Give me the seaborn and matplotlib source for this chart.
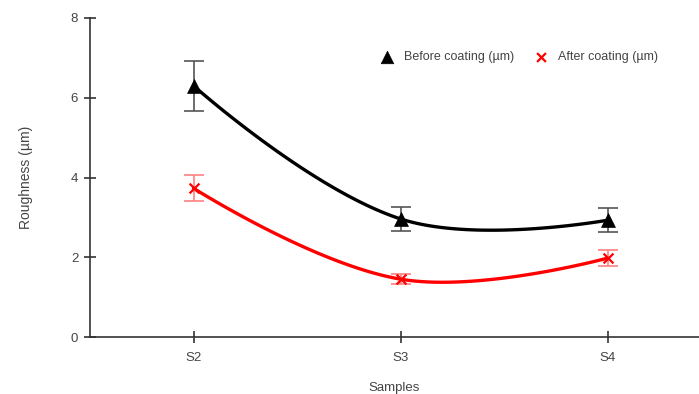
import numpy as np
import matplotlib
matplotlib.use("Agg")
import matplotlib.pyplot as plt
import seaborn as sns

# Data
samples = ["S2", "S3", "S4"]
before = [6.30, 2.96, 2.93]
before_err = [0.63, 0.30, 0.30]
after = [3.73, 1.45, 1.98]
after_err = [0.33, 0.12, 0.19]

# pixel size of one unit on each axis, used to shape the smooth curve
SX, SY = 207.0, 39.9


def smooth_curve(y, tension=0.4, n=60):
    # bezier smoothing like a "tension" line chart, computed in pixel space
    p = np.column_stack([np.arange(len(y)) * SX, np.asarray(y, float) * SY])
    k = len(p)
    cp_prev = p.copy()
    cp_next = p.copy()
    for i in range(1, k - 1):
        d01 = np.hypot(*(p[i] - p[i - 1]))
        d12 = np.hypot(*(p[i + 1] - p[i]))
        fa = tension * d01 / (d01 + d12)
        fb = tension * d12 / (d01 + d12)
        cp_prev[i] = p[i] - fa * (p[i + 1] - p[i - 1])
        cp_next[i] = p[i] + fb * (p[i + 1] - p[i - 1])
    t = np.linspace(0, 1, n)[:, None]
    pts = []
    for i in range(k - 1):
        a, b, c, d = p[i], cp_next[i], cp_prev[i + 1], p[i + 1]
        seg = ((1 - t) ** 3 * a + 3 * (1 - t) ** 2 * t * b
               + 3 * (1 - t) * t ** 2 * c + t ** 3 * d)
        pts.append(seg if i == 0 else seg[1:])
    pts = np.vstack(pts)
    return pts[:, 0] / SX, pts[:, 1] / SY


sns.set_style("white")
plt.rcParams["font.family"] = ["Liberation Sans", "DejaVu Sans"]

fig = plt.figure(figsize=(6.99, 3.94), dpi=100)
ax = fig.add_axes([90 / 699, 57 / 394, 609 / 699, 319 / 394])

pos = np.arange(len(samples))

# smooth lines
for vals, col in [(before, "black"), (after, "#ff0000")]:
    xs, ys = smooth_curve(vals)
    sns.lineplot(x=xs, y=ys, color=col, lw=2.4, sort=False, ax=ax, zorder=2)

# error bars
ax.errorbar(pos, before, yerr=before_err, fmt="none", ecolor="#555555",
            elinewidth=1.2, capsize=7, capthick=1.2, zorder=3)
ax.errorbar(pos, after, yerr=after_err, fmt="none", ecolor="#ff8080",
            elinewidth=1.2, capsize=7, capthick=1.2, zorder=3)

# markers
sns.scatterplot(x=pos, y=before, marker="^", color="black", s=100,
                edgecolor="black", linewidth=0.5, ax=ax, zorder=4,
                label="Before coating (µm)")
sns.scatterplot(x=pos, y=after, marker="x", color="#ff0000", s=50,
                linewidth=1.6, ax=ax, zorder=4, label="After coating (µm)")

ax.set_xlim(-0.5, 2.44)
ax.set_ylim(0, 8)
ax.set_xticks(pos)
ax.set_xticklabels(samples)
ax.set_yticks([0, 2, 4, 6, 8])

for side in ["top", "right"]:
    ax.spines[side].set_visible(False)
for side in ["left", "bottom"]:
    ax.spines[side].set_color("#333333")
    ax.spines[side].set_linewidth(1.2)
ax.tick_params(axis="both", which="major", bottom=True, left=True,
               direction="inout", length=9, width=1.2,
               color="#333333", labelcolor="#444444", labelsize=9.5)
ax.tick_params(axis="x", pad=6)
ax.tick_params(axis="y", pad=4)

ax.set_xlabel("Samples", fontsize=9.5, color="#444444", labelpad=13)
ax.set_ylabel("Roughness (µm)", fontsize=10, color="#444444", labelpad=27)

leg = ax.legend(loc="center right", bbox_to_anchor=(0.932, 0.878), ncol=2,
                frameon=False, fontsize=9, handlelength=1.0,
                handletextpad=0.8, columnspacing=1.7, markerscale=0.9,
                borderaxespad=0, borderpad=0)
for t in leg.get_texts():
    t.set_color("#444444")

fig.savefig("out.png", dpi=100)
